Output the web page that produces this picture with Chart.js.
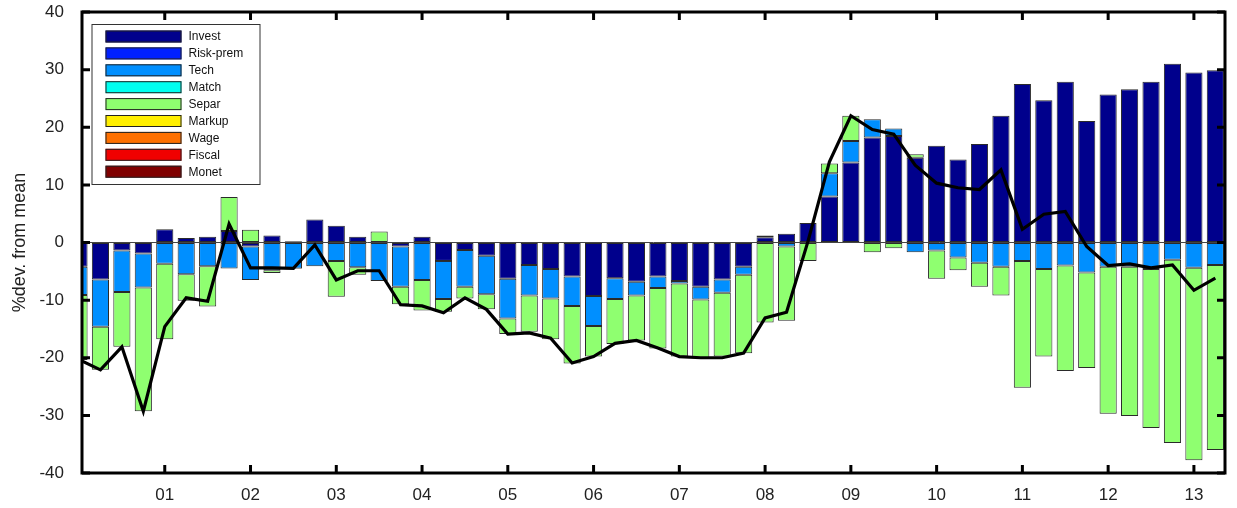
<!DOCTYPE html>
<html><head><meta charset="utf-8">
<script src="https://cdn.jsdelivr.net/npm/chart.js@4/dist/chart.umd.min.js"></script>
<style>html,body{margin:0;padding:0;background:#fff;overflow:hidden}canvas{display:block}</style>
</head><body>
<canvas id="c" width="1237" height="508"></canvas>
<script>
// Categories: quarters 2000Q1 .. 2013Q2
const quarters = [];
for (let yr = 2000; yr <= 2013; yr++) for (let q = 1; q <= 4; q++) quarters.push(yr + 'Q' + q);
quarters.length = 54;

const yearTicks = ['01','02','03','04','05','06','07','08','09','10','11','12','13'];
const yTickValues = [-40,-30,-20,-10,0,10,20,30,40];

// Shock contributions (%dev. from mean)
const invest = [-4.2,-6.4,-1.4,-1.9, 2.3,0.8,1.0,2.0, -0.7,1.2,0.2,4.0, 2.9,1.0,0,-0.7,
  1.0,-3.2,-1.3,-2.3, -6.3,-3.9,-4.6,-5.9, -9.3,-6.2,-6.8,-5.9, -6.7,-7.7,-6.4,-4.2,
  0.9,1.5,3.4,8.0, 13.9,18.2,18.5,14.7, 16.8,14.4,17.1,22.0, 27.5,24.7,27.9,21.1,
  25.7,26.6,27.9,31.0, 29.5,29.9];
const riskPrem = [];
const tech = [-4.9,-8.2,-7.2,-5.9, -3.7,-5.5,-4.1,-4.5, -5.8,-4.8,-4.5,-4.1, -3.2,-4.3,-6.7,-7.0,
  -6.5,-6.6,-6.4,-6.7, -6.9,-5.3,-5.1,-5.1, -5.2,-3.6,-2.4,-2.0, -0.4,-2.2,-2.3,-1.4,
  0.3,-0.7,0,4.0, 3.7,3.2,1.3,-1.7, -1.4,-2.6,-3.5,-4.2, -3.2,-4.6,-4.0,-5.2,
  -4.2,-4.2,-4.6,-3.0, -4.4,-3.9];
const match = [];
const separ = [-11.3,-7.5,-9.5,-21.5, -13.1,-4.6,-7.0,5.9, 2.2,-0.5,-0.1,0, -6.2,-1.3,1.9,-3.0,
  -5.3,-2.2,-2.0,-2.6, -2.7,-6.3,-7.1,-10.0, -5.3,-7.8,-7.8,-10.5, -12.7,-10.2,-11.1,-13.6,
  -13.9,-12.9,-3.2,1.7, 4.4,-1.7,-1.0,0.6, -4.9,-2.2,-4.2,-5.0, -22.0,-15.2,-18.3,-16.6,
  -25.5,-25.9,-27.6,-31.8, -33.4,-32.1];
const markup = [];
const wage = [];
const fiscal = [];
const monet = [];
// Observed total (black line)
const total = [-20.3,-22.1,-18.1,-29.3, -14.6,-9.6,-10.2,3.2, -4.4,-4.4,-4.5,-0.4, -6.5,-4.9,-4.9,-10.8,
  -11.0,-12.2,-9.6,-11.6, -15.9,-15.7,-16.6,-20.9, -19.8,-17.5,-17.0,-18.3, -19.8,-20.0,-20.0,-19.2,
  -13.1,-12.1,0.2,14.0, 22.0,19.6,18.8,13.4, 10.3,9.5,9.2,12.6, 2.3,4.9,5.4,-0.7,
  -4.0,-3.7,-4.4,-3.9, -8.3,-6.2];

const seriesNames = ['Invest','Risk-prem','Tech','Match','Separ','Markup','Wage','Fiscal','Monet'];
const seriesData = [invest, riskPrem, tech, match, separ, markup, wage, fiscal, monet];
const seriesColors = ['#00008C','#0020FF','#008FFF','#00FFF0','#8FFF70','#FFEF00','#FF7000','#F00000','#800000'];

const toXY = arr => arr.map((v, i) => ({ x: i, y: v }));

const datasets = seriesNames.map((name, k) => ({
  type: 'bar',
  label: name,
  data: toXY(seriesData[k]),
  backgroundColor: seriesColors[k],
  borderColor: '#2a2a2a',
  borderWidth: 1,
  borderSkipped: false,
  barPercentage: 0.8,
  categoryPercentage: 1.0,
  stack: 'shocks',
  order: 1
}));
datasets.push({
  type: 'line',
  label: 'Total',
  data: toXY(total),
  borderColor: '#000',
  borderWidth: 3.2,
  pointRadius: 0,
  tension: 0,
  stack: 'total',
  order: 0
});

const FONT = '"Liberation Sans", Arial, sans-serif';

const framePlugin = {
  id: 'frame',
  afterDraw(chart) {
    const { ctx, chartArea: a, scales: { x, y } } = chart;
    ctx.save();
    ctx.strokeStyle = '#000';
    ctx.lineWidth = 3;
    ctx.beginPath();
    x.ticks.forEach(t => {
      const px = x.getPixelForValue(t.value);
      ctx.moveTo(px, a.bottom); ctx.lineTo(px, a.bottom - 8);
      ctx.moveTo(px, a.top); ctx.lineTo(px, a.top + 8);
    });
    y.ticks.forEach(t => {
      const py = y.getPixelForValue(t.value);
      ctx.moveTo(a.left, py); ctx.lineTo(a.left + 8, py);
      ctx.moveTo(a.right, py); ctx.lineTo(a.right - 8, py);
    });
    ctx.stroke();
    ctx.lineWidth = 3;
    ctx.strokeRect(a.left, a.top, a.right - a.left, a.bottom - a.top);

    // legend box
    const bx = a.left + 9.5, by = a.top + 12, bw = 168, bh = 160;
    ctx.fillStyle = '#fff';
    ctx.fillRect(bx, by, bw, bh);
    ctx.lineWidth = 1;
    ctx.strokeStyle = '#333';
    ctx.strokeRect(bx + 0.5, by + 0.5, bw, bh);
    ctx.font = '12px ' + FONT;
    ctx.textBaseline = 'middle';
    ctx.textAlign = 'left';
    chart.data.datasets.forEach((ds, k) => {
      if (ds.type !== 'bar') return;
      const cy = by + 12.5 + k * 16.9;
      ctx.fillStyle = ds.backgroundColor;
      ctx.fillRect(bx + 14, cy - 6, 76, 12);
      ctx.strokeStyle = '#222';
      ctx.strokeRect(bx + 14.5, cy - 5.5, 75, 11);
      ctx.fillStyle = '#111';
      ctx.fillText(ds.label, bx + 97, cy + 0.5);
    });
    ctx.restore();
  }
};

new Chart(document.getElementById('c'), {
  data: { datasets },
  options: {
    responsive: false,
    devicePixelRatio: 1,
    animation: false,
    layout: { padding: { left: 0, right: 12, top: 12, bottom: 0 } },
    plugins: { legend: { display: false }, tooltip: { enabled: false } },
    scales: {
      x: {
        type: 'linear',
        stacked: true,
        min: 0.14,
        max: 53.45,
        offset: false,
        grid: { display: false, drawTicks: false },
        border: { display: false },
        afterBuildTicks: s => { s.ticks = yearTicks.map(yy => ({ value: quarters.indexOf('20' + yy + 'Q1') })); },
        afterFit: s => { s.height = 35; s.paddingLeft = 0; s.paddingRight = 0; },
        ticks: {
          autoSkip: false, maxRotation: 0, padding: 12,
          color: '#222', font: { family: FONT, size: 17 },
          callback: (v) => { const q = quarters[v]; return q ? q.slice(2, 4) : ''; }
        }
      },
      y: {
        stacked: true,
        min: -40, max: 40,
        afterBuildTicks: s => { s.ticks = yTickValues.map(v => ({ value: v })); },
        afterFit: s => { s.width = 82; s.paddingTop = 0; s.paddingBottom = 0; },
        grid: {
          drawTicks: false,
          color: ctx => (ctx.tick && ctx.tick.value === 0 ? '#444' : 'rgba(0,0,0,0)'),
          lineWidth: 1
        },
        border: { display: false },
        ticks: { padding: 18, color: '#222', font: { family: FONT, size: 17 } },
        title: { display: true, text: '%dev. from mean', color: '#222', font: { family: FONT, size: 18 }, padding: { top: 9, bottom: 0 } }
      }
    }
  },
  plugins: [framePlugin]
});
</script>
</body></html>
